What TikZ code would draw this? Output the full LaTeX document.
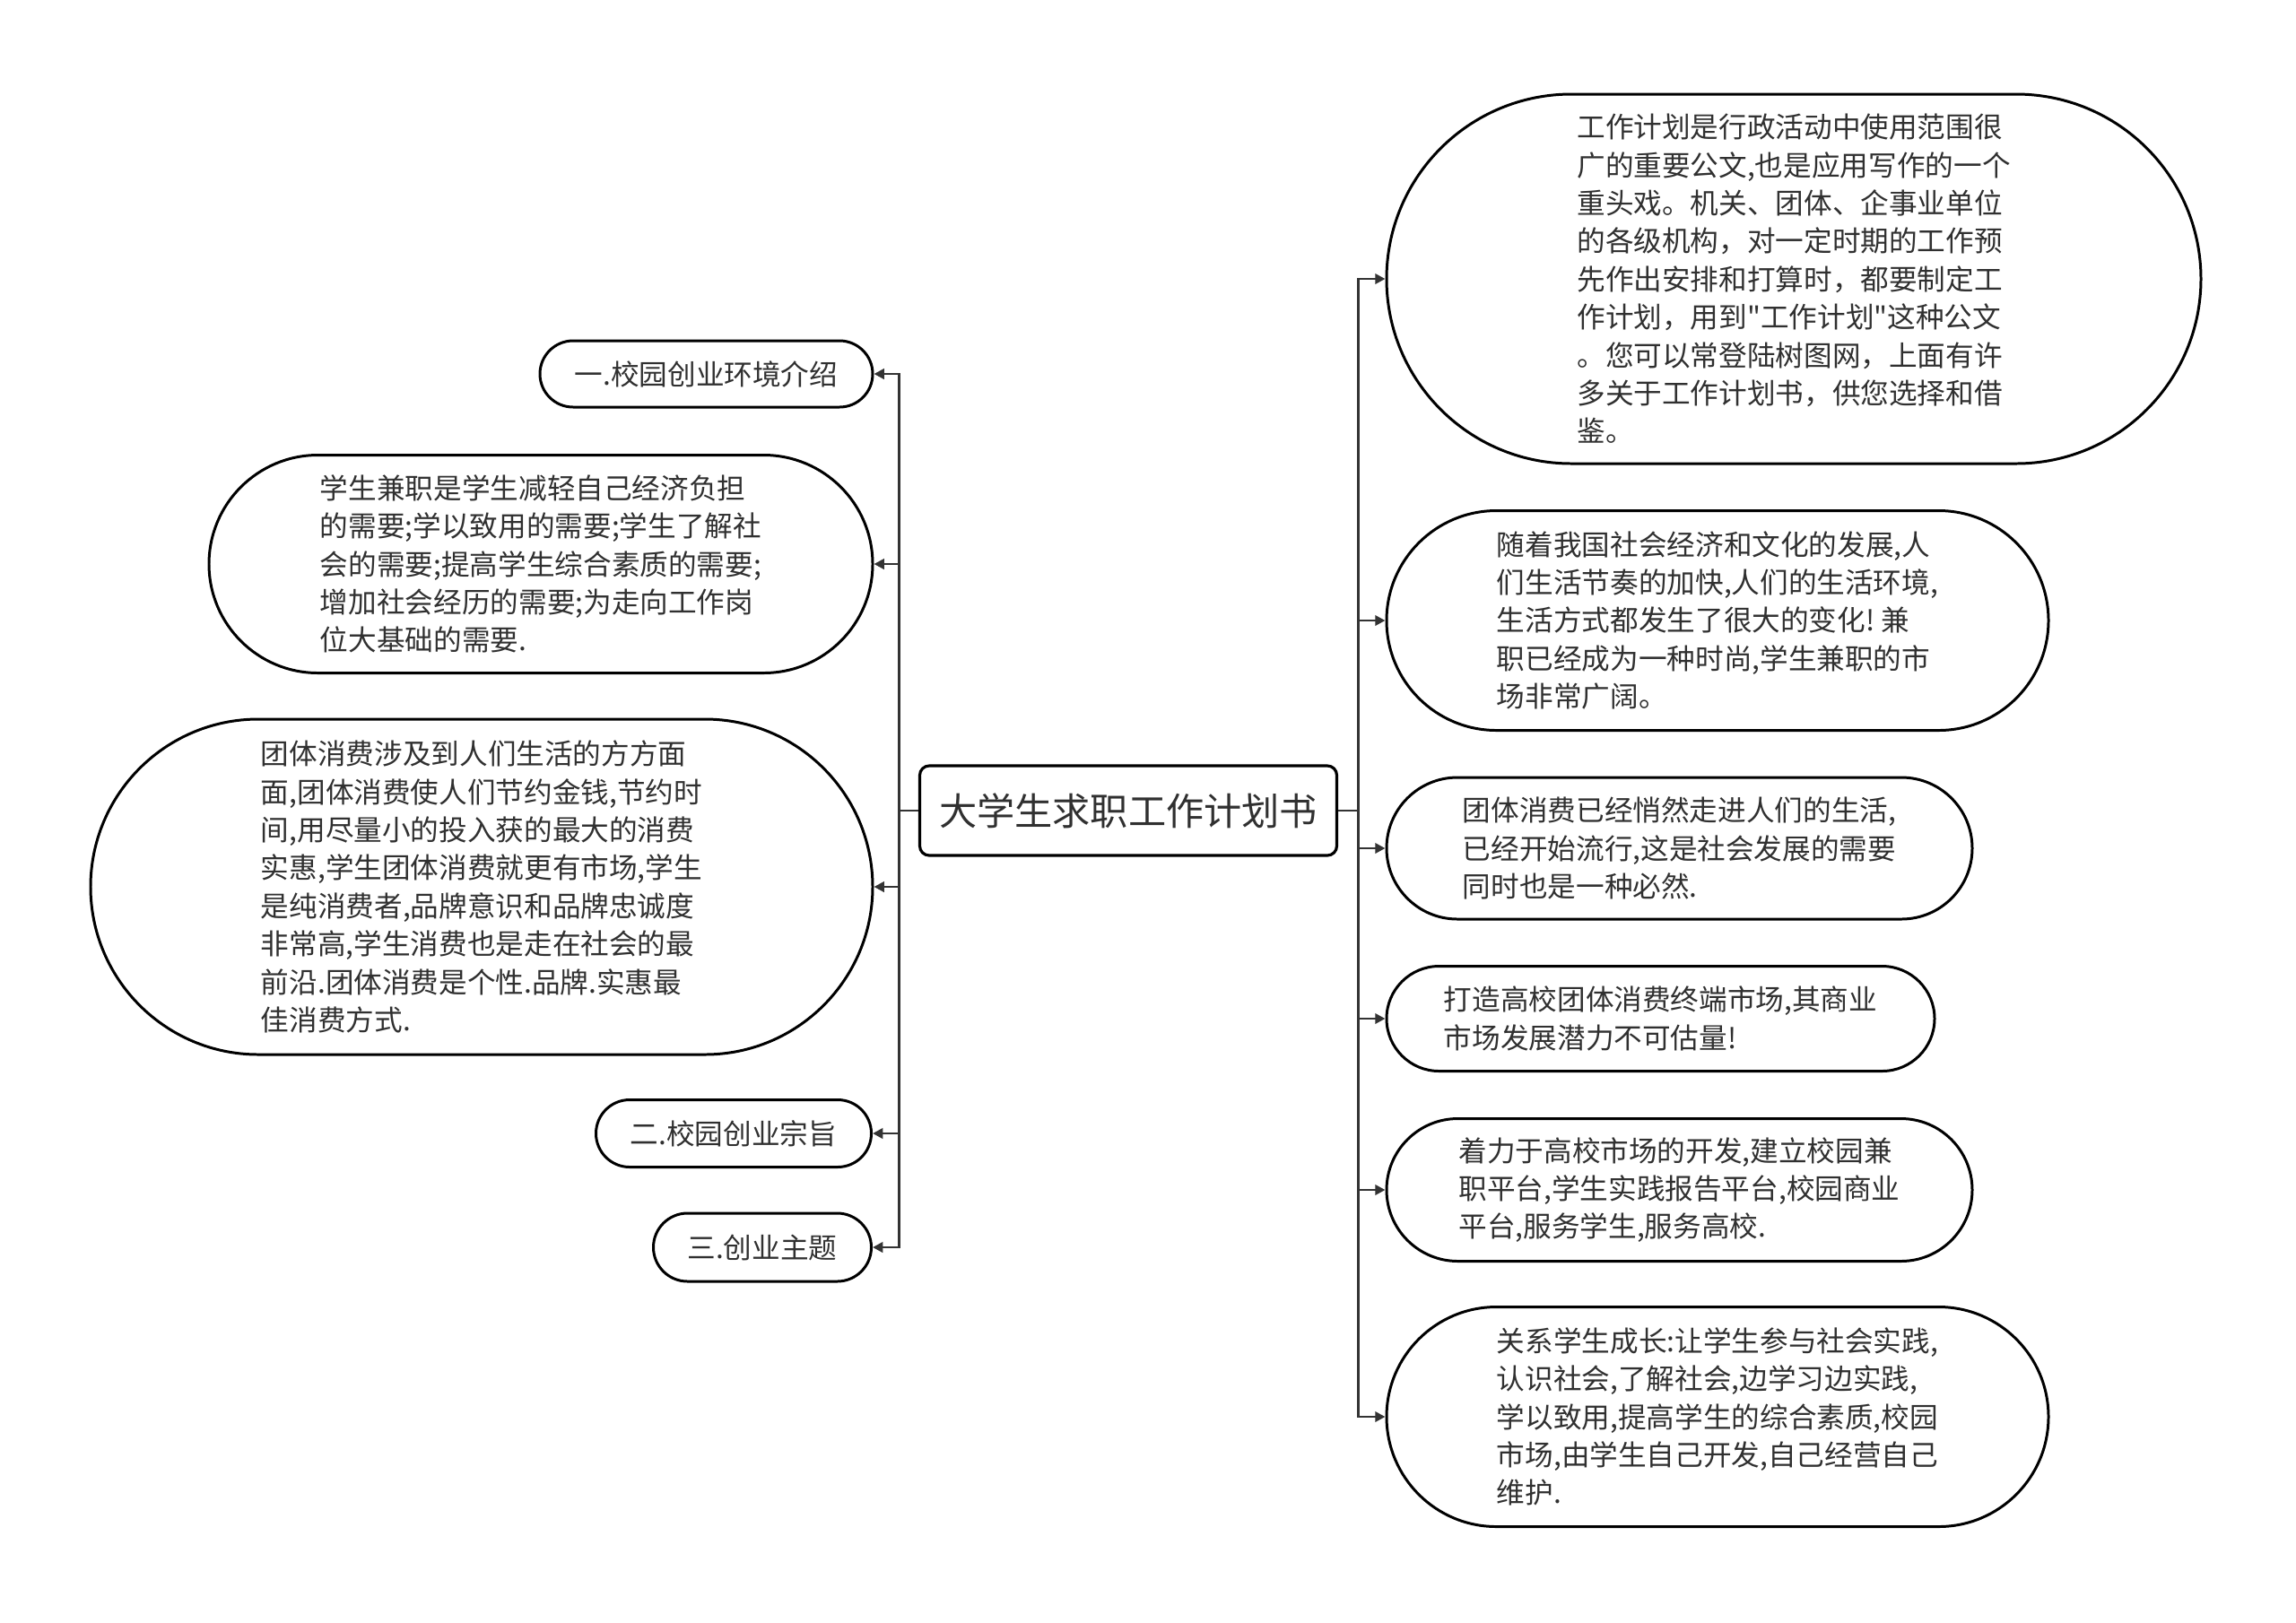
\documentclass[tikz,border=0pt]{standalone}
\usepackage{fontspec}
\newfontfamily\cjkfont{Noto Sans CJK SC}
\usepackage{xcolor}
\definecolor{line-dark}{HTML}{333333}
\definecolor{text-dark}{HTML}{303030}
\usepackage{tikz}
\usetikzlibrary{
  shapes.misc,
  arrows.meta,
  positioning
}

\begin{document}
\begin{tikzpicture}[
    leaf/.style={
      rounded rectangle,
      draw=black,
      line width=0.85pt,
      fill=white,
      inner sep=0pt,
      font=\cjkfont\fontsize{9}{12.06}\selectfont,
      text=text-dark,
      align=left
    },
    topic/.style={
      rectangle,
      draw=black,
      line width=0.9pt,
      rounded corners=3pt,
      minimum width=4.65cm,
      minimum height=1cm,
      font=\cjkfont\fontsize{12}{14}\selectfont,
      text=text-dark
    },
    link/.style={
      -{Triangle[length=3.2pt,width=3.2pt]},
      line width=0.8pt,
      draw=line-dark
    }
  ]
    \useasboundingbox (0,0) rectangle (25.6,-18.09);

    % ---- Central topic ----
    \node[topic] (title) at (12.58, -9.04) {大学生求职工作计划书};

    % ---- Left branch ----
    \node[leaf, minimum width=3.71cm, minimum height=0.74cm] (env) at (7.875, -4.17)
      {一.校园创业环境介绍};
    \node[leaf, minimum width=7.40cm, minimum height=2.43cm] (parttime) at (6.03, -6.29)
      {学生兼职是学生减轻自己经济负担\\
       的需要;学以致用的需要;学生了解社\\
       会的需要;提高学生综合素质的需要;\\
       增加社会经历的需要;为走向工作岗\\
       位大基础的需要.};
    \node[leaf, minimum width=8.72cm, minimum height=3.74cm] (groupbuy) at (5.37, -9.89)
      {团体消费涉及到人们生活的方方面\\
       面,团体消费使人们节约金钱,节约时\\
       间,用尽量小的投入获的最大的消费\\
       实惠,学生团体消费就更有市场,学生\\
       是纯消费者,品牌意识和品牌忠诚度\\
       非常高,学生消费也是走在社会的最\\
       前沿.团体消费是个性.品牌.实惠最\\
       佳消费方式.};
    \node[leaf, minimum width=3.07cm, minimum height=0.75cm] (aim) at (8.18, -12.64)
      {二.校园创业宗旨};
    \node[leaf, minimum width=2.43cm, minimum height=0.76cm] (theme) at (8.50, -13.91)
      {三.创业主题};

    % ---- Right branch ----
    \node[leaf, minimum width=9.08cm, minimum height=4.12cm] (plan) at (20.00, -3.11)
      {工作计划是行政活动中使用范围很\\
       广的重要公文,也是应用写作的一个\\
       重头戏。机关、团体、企事业单位\\
       的各级机构，对一定时期的工作预\\
       先作出安排和打算时，都要制定工\\
       作计划，用到"工作计划"这种公文\\
       。您可以常登陆树图网，上面有许\\
       多关于工作计划书，供您选择和借\\
       鉴。};
    \node[leaf, minimum width=7.38cm, minimum height=2.45cm] (trend) at (19.15, -6.92)
      {随着我国社会经济和文化的发展,人\\
       们生活节奏的加快,人们的生活环境,\\
       生活方式都发生了很大的变化!\ 兼\\
       职已经成为一种时尚,学生兼职的市\\
       场非常广阔。};
    \node[leaf, minimum width=6.53cm, minimum height=1.58cm] (spread) at (18.725, -9.46)
      {团体消费已经悄然走进人们的生活,\\
       已经开始流行,这是社会发展的需要\\
       同时也是一种必然.};
    \node[leaf, minimum width=6.11cm, minimum height=1.17cm] (market) at (18.515, -11.36)
      {打造高校团体消费终端市场,其商业\\
       市场发展潜力不可估量!};
    \node[leaf, minimum width=6.53cm, minimum height=1.59cm] (platform) at (18.725, -13.27)
      {着力于高校市场的开发,建立校园兼\\
       职平台,学生实践报告平台,校园商业\\
       平台,服务学生,服务高校.};
    \node[leaf, minimum width=7.38cm, minimum height=2.45cm] (growth) at (19.15, -15.80)
      {关系学生成长:让学生参与社会实践,\\
       认识社会,了解社会,边学习边实践,\\
       学以致用,提高学生的综合素质,校园\\
       市场,由学生自己开发,自己经营自己\\
       维护.};

    % ---- Title -> left leaves ----
    \draw[link] (title.west) -- ++(-0.215,0) |- (env.east);
    \draw[link] (title.west) -- ++(-0.215,0) |- (parttime.east);
    \draw[link] (title.west) -- ++(-0.215,0) |- (groupbuy.east);
    \draw[link] (title.west) -- ++(-0.215,0) |- (aim.east);
    \draw[link] (title.west) -- ++(-0.215,0) |- (theme.east);

    % ---- Title -> right leaves ----
    \draw[link] (title.east) -- ++(0.22,0) |- (plan.west);
    \draw[link] (title.east) -- ++(0.22,0) |- (trend.west);
    \draw[link] (title.east) -- ++(0.22,0) |- (spread.west);
    \draw[link] (title.east) -- ++(0.22,0) |- (market.west);
    \draw[link] (title.east) -- ++(0.22,0) |- (platform.west);
    \draw[link] (title.east) -- ++(0.22,0) |- (growth.west);
  \end{tikzpicture}
\end{document}
